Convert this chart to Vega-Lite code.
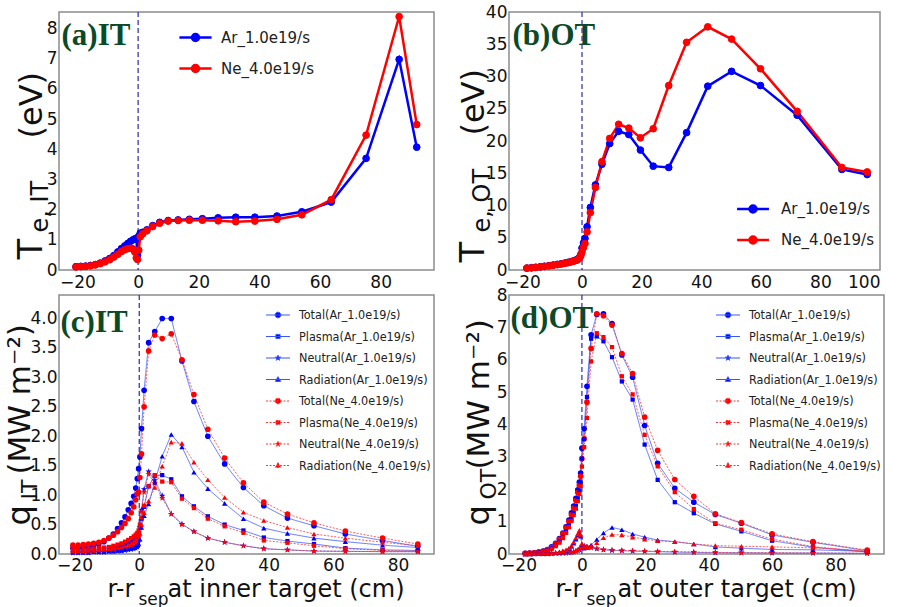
{
"$schema":"https://vega.github.io/schema/vega-lite/v6.json",
"background":"white",
"padding":{"left":2,"top":2,"right":2,"bottom":2},
"columns":2,
"spacing":{"row":25,"column":75},
"bounds":"flush",
"config":{
 "view":{"stroke":"#8c8c8c","strokeWidth":1.5},
 "axis":{"grid":false,"domain":false,"ticks":false,"labelFont":"DejaVu Sans","labelFontSize":17,"labelColor":"#111","labelPadding":3,"titleFont":"DejaVu Sans","titleFontWeight":"normal","titleColor":"#111"},
 "legend":{"padding":0,"offset":0,"labelColor":"#222","labelFont":"DejaVu Sans","labelLimit":300}
},
"datasets":{
"teit":[
{"c":"Ar_1.0e19/s","x":-20.5,"y":0.11},{"c":"Ar_1.0e19/s","x":-18.9,"y":0.12},{"c":"Ar_1.0e19/s","x":-17.3,"y":0.13},{"c":"Ar_1.0e19/s","x":-15.7,"y":0.15},{"c":"Ar_1.0e19/s","x":-14.1,"y":0.18},{"c":"Ar_1.0e19/s","x":-12.5,"y":0.23},{"c":"Ar_1.0e19/s","x":-10.9,"y":0.30},{"c":"Ar_1.0e19/s","x":-9.4,"y":0.38},{"c":"Ar_1.0e19/s","x":-8.0,"y":0.48},{"c":"Ar_1.0e19/s","x":-6.7,"y":0.60},{"c":"Ar_1.0e19/s","x":-5.5,"y":0.71},{"c":"Ar_1.0e19/s","x":-4.4,"y":0.80},{"c":"Ar_1.0e19/s","x":-3.4,"y":0.88},{"c":"Ar_1.0e19/s","x":-2.5,"y":0.95},{"c":"Ar_1.0e19/s","x":-1.7,"y":1.00},{"c":"Ar_1.0e19/s","x":-1.1,"y":1.03},{"c":"Ar_1.0e19/s","x":-0.6,"y":1.05},{"c":"Ar_1.0e19/s","x":-0.2,"y":0.50},{"c":"Ar_1.0e19/s","x":0.2,"y":1.12},{"c":"Ar_1.0e19/s","x":0.7,"y":1.22},{"c":"Ar_1.0e19/s","x":1.5,"y":1.25},{"c":"Ar_1.0e19/s","x":2.9,"y":1.33},{"c":"Ar_1.0e19/s","x":4.8,"y":1.47},{"c":"Ar_1.0e19/s","x":7.1,"y":1.58},{"c":"Ar_1.0e19/s","x":9.9,"y":1.64},{"c":"Ar_1.0e19/s","x":13.2,"y":1.66},{"c":"Ar_1.0e19/s","x":16.9,"y":1.68},{"c":"Ar_1.0e19/s","x":21.2,"y":1.70},{"c":"Ar_1.0e19/s","x":26.4,"y":1.73},{"c":"Ar_1.0e19/s","x":32.2,"y":1.75},{"c":"Ar_1.0e19/s","x":38.5,"y":1.75},{"c":"Ar_1.0e19/s","x":45.8,"y":1.79},{"c":"Ar_1.0e19/s","x":54.0,"y":1.93},{"c":"Ar_1.0e19/s","x":63.7,"y":2.25},{"c":"Ar_1.0e19/s","x":75.2,"y":3.70},{"c":"Ar_1.0e19/s","x":86.1,"y":6.98},{"c":"Ar_1.0e19/s","x":91.9,"y":4.07},
{"c":"Ne_4.0e19/s","x":-20.5,"y":0.10},{"c":"Ne_4.0e19/s","x":-18.9,"y":0.11},{"c":"Ne_4.0e19/s","x":-17.3,"y":0.12},{"c":"Ne_4.0e19/s","x":-15.7,"y":0.14},{"c":"Ne_4.0e19/s","x":-14.1,"y":0.17},{"c":"Ne_4.0e19/s","x":-12.5,"y":0.21},{"c":"Ne_4.0e19/s","x":-10.9,"y":0.27},{"c":"Ne_4.0e19/s","x":-9.4,"y":0.34},{"c":"Ne_4.0e19/s","x":-8.0,"y":0.43},{"c":"Ne_4.0e19/s","x":-6.7,"y":0.52},{"c":"Ne_4.0e19/s","x":-5.5,"y":0.61},{"c":"Ne_4.0e19/s","x":-4.4,"y":0.67},{"c":"Ne_4.0e19/s","x":-3.4,"y":0.71},{"c":"Ne_4.0e19/s","x":-2.5,"y":0.72},{"c":"Ne_4.0e19/s","x":-1.7,"y":0.70},{"c":"Ne_4.0e19/s","x":-1.1,"y":0.60},{"c":"Ne_4.0e19/s","x":-0.6,"y":0.40},{"c":"Ne_4.0e19/s","x":-0.2,"y":0.35},{"c":"Ne_4.0e19/s","x":0.2,"y":0.66},{"c":"Ne_4.0e19/s","x":0.7,"y":1.10},{"c":"Ne_4.0e19/s","x":1.5,"y":1.20},{"c":"Ne_4.0e19/s","x":2.9,"y":1.30},{"c":"Ne_4.0e19/s","x":4.8,"y":1.44},{"c":"Ne_4.0e19/s","x":7.1,"y":1.55},{"c":"Ne_4.0e19/s","x":9.9,"y":1.62},{"c":"Ne_4.0e19/s","x":13.2,"y":1.64},{"c":"Ne_4.0e19/s","x":16.9,"y":1.65},{"c":"Ne_4.0e19/s","x":21.2,"y":1.65},{"c":"Ne_4.0e19/s","x":26.4,"y":1.63},{"c":"Ne_4.0e19/s","x":32.2,"y":1.60},{"c":"Ne_4.0e19/s","x":38.5,"y":1.62},{"c":"Ne_4.0e19/s","x":45.8,"y":1.68},{"c":"Ne_4.0e19/s","x":54.0,"y":1.83},{"c":"Ne_4.0e19/s","x":63.7,"y":2.33},{"c":"Ne_4.0e19/s","x":75.2,"y":4.47},{"c":"Ne_4.0e19/s","x":86.1,"y":8.40},{"c":"Ne_4.0e19/s","x":91.9,"y":4.82}
],
"teot":[
{"c":"Ar_1.0e19/s","x":-18.5,"y":0.3},{"c":"Ar_1.0e19/s","x":-17.0,"y":0.35},{"c":"Ar_1.0e19/s","x":-15.5,"y":0.42},{"c":"Ar_1.0e19/s","x":-14.0,"y":0.5},{"c":"Ar_1.0e19/s","x":-12.6,"y":0.58},{"c":"Ar_1.0e19/s","x":-11.1,"y":0.67},{"c":"Ar_1.0e19/s","x":-9.7,"y":0.77},{"c":"Ar_1.0e19/s","x":-8.3,"y":0.87},{"c":"Ar_1.0e19/s","x":-7.0,"y":0.97},{"c":"Ar_1.0e19/s","x":-5.8,"y":1.07},{"c":"Ar_1.0e19/s","x":-4.8,"y":1.17},{"c":"Ar_1.0e19/s","x":-3.9,"y":1.27},{"c":"Ar_1.0e19/s","x":-3.1,"y":1.37},{"c":"Ar_1.0e19/s","x":-2.4,"y":1.47},{"c":"Ar_1.0e19/s","x":-1.8,"y":1.58},{"c":"Ar_1.0e19/s","x":-1.3,"y":1.72},{"c":"Ar_1.0e19/s","x":-0.8,"y":1.95},{"c":"Ar_1.0e19/s","x":-0.4,"y":2.4},{"c":"Ar_1.0e19/s","x":0.0,"y":3.4},{"c":"Ar_1.0e19/s","x":0.5,"y":4.2},{"c":"Ar_1.0e19/s","x":1.0,"y":4.9},{"c":"Ar_1.0e19/s","x":1.7,"y":6.7},{"c":"Ar_1.0e19/s","x":2.8,"y":9.7},{"c":"Ar_1.0e19/s","x":4.5,"y":13.2},{"c":"Ar_1.0e19/s","x":6.7,"y":16.4},{"c":"Ar_1.0e19/s","x":9.3,"y":19.6},{"c":"Ar_1.0e19/s","x":12.3,"y":21.5},{"c":"Ar_1.0e19/s","x":15.7,"y":21.0},{"c":"Ar_1.0e19/s","x":19.6,"y":18.6},{"c":"Ar_1.0e19/s","x":23.9,"y":16.1},{"c":"Ar_1.0e19/s","x":29.1,"y":15.9},{"c":"Ar_1.0e19/s","x":35.1,"y":21.3},{"c":"Ar_1.0e19/s","x":42.2,"y":28.5},{"c":"Ar_1.0e19/s","x":50.2,"y":30.8},{"c":"Ar_1.0e19/s","x":59.9,"y":28.6},{"c":"Ar_1.0e19/s","x":72.2,"y":24.0},{"c":"Ar_1.0e19/s","x":87.2,"y":15.6},{"c":"Ar_1.0e19/s","x":95.7,"y":14.8},
{"c":"Ne_4.0e19/s","x":-18.5,"y":0.28},{"c":"Ne_4.0e19/s","x":-17.0,"y":0.33},{"c":"Ne_4.0e19/s","x":-15.5,"y":0.4},{"c":"Ne_4.0e19/s","x":-14.0,"y":0.47},{"c":"Ne_4.0e19/s","x":-12.6,"y":0.55},{"c":"Ne_4.0e19/s","x":-11.1,"y":0.64},{"c":"Ne_4.0e19/s","x":-9.7,"y":0.73},{"c":"Ne_4.0e19/s","x":-8.3,"y":0.83},{"c":"Ne_4.0e19/s","x":-7.0,"y":0.93},{"c":"Ne_4.0e19/s","x":-5.8,"y":1.03},{"c":"Ne_4.0e19/s","x":-4.8,"y":1.13},{"c":"Ne_4.0e19/s","x":-3.9,"y":1.23},{"c":"Ne_4.0e19/s","x":-3.1,"y":1.33},{"c":"Ne_4.0e19/s","x":-2.4,"y":1.43},{"c":"Ne_4.0e19/s","x":-1.8,"y":1.53},{"c":"Ne_4.0e19/s","x":-1.3,"y":1.65},{"c":"Ne_4.0e19/s","x":-0.8,"y":1.85},{"c":"Ne_4.0e19/s","x":-0.4,"y":2.2},{"c":"Ne_4.0e19/s","x":0.0,"y":2.8},{"c":"Ne_4.0e19/s","x":0.5,"y":3.5},{"c":"Ne_4.0e19/s","x":1.0,"y":4.1},{"c":"Ne_4.0e19/s","x":1.7,"y":5.9},{"c":"Ne_4.0e19/s","x":2.8,"y":8.9},{"c":"Ne_4.0e19/s","x":4.5,"y":12.8},{"c":"Ne_4.0e19/s","x":6.7,"y":16.8},{"c":"Ne_4.0e19/s","x":9.3,"y":20.4},{"c":"Ne_4.0e19/s","x":12.3,"y":22.6},{"c":"Ne_4.0e19/s","x":15.7,"y":22.0},{"c":"Ne_4.0e19/s","x":19.6,"y":20.5},{"c":"Ne_4.0e19/s","x":23.9,"y":21.9},{"c":"Ne_4.0e19/s","x":29.1,"y":28.6},{"c":"Ne_4.0e19/s","x":35.1,"y":35.3},{"c":"Ne_4.0e19/s","x":42.2,"y":37.7},{"c":"Ne_4.0e19/s","x":50.2,"y":35.8},{"c":"Ne_4.0e19/s","x":59.9,"y":31.2},{"c":"Ne_4.0e19/s","x":72.2,"y":24.6},{"c":"Ne_4.0e19/s","x":87.2,"y":15.9},{"c":"Ne_4.0e19/s","x":95.7,"y":15.2}
],
"qit":[
{"s":"TA","x":-20.5,"y":0.10},{"s":"TA","x":-18.9,"y":0.10},{"s":"TA","x":-17.3,"y":0.11},{"s":"TA","x":-15.7,"y":0.12},{"s":"TA","x":-14.1,"y":0.14},{"s":"TA","x":-12.5,"y":0.17},{"s":"TA","x":-10.9,"y":0.21},{"s":"TA","x":-9.4,"y":0.27},{"s":"TA","x":-8.0,"y":0.34},{"s":"TA","x":-6.7,"y":0.43},{"s":"TA","x":-5.5,"y":0.53},{"s":"TA","x":-4.4,"y":0.63},{"s":"TA","x":-3.4,"y":0.75},{"s":"TA","x":-2.5,"y":0.86},{"s":"TA","x":-1.7,"y":0.98},{"s":"TA","x":-1.1,"y":1.12},{"s":"TA","x":-0.6,"y":1.28},{"s":"TA","x":-0.2,"y":1.45},{"s":"TA","x":0.2,"y":1.65},{"s":"TA","x":0.7,"y":2.13},{"s":"TA","x":1.5,"y":2.78},{"s":"TA","x":2.9,"y":3.59},{"s":"TA","x":4.8,"y":3.78},{"s":"TA","x":7.1,"y":4.00},{"s":"TA","x":9.9,"y":4.00},{"s":"TA","x":13.2,"y":3.28},{"s":"TA","x":16.9,"y":2.59},{"s":"TA","x":21.2,"y":2.00},{"s":"TA","x":26.4,"y":1.53},{"s":"TA","x":32.2,"y":1.13},{"s":"TA","x":38.5,"y":0.82},{"s":"TA","x":45.8,"y":0.61},{"s":"TA","x":54.0,"y":0.48},{"s":"TA","x":63.7,"y":0.34},{"s":"TA","x":75.2,"y":0.23},{"s":"TA","x":86.1,"y":0.13},
{"s":"PA","x":-20.5,"y":0.06},{"s":"PA","x":-18.9,"y":0.06},{"s":"PA","x":-17.3,"y":0.06},{"s":"PA","x":-15.7,"y":0.07},{"s":"PA","x":-14.1,"y":0.07},{"s":"PA","x":-12.5,"y":0.08},{"s":"PA","x":-10.9,"y":0.09},{"s":"PA","x":-9.4,"y":0.10},{"s":"PA","x":-8.0,"y":0.11},{"s":"PA","x":-6.7,"y":0.13},{"s":"PA","x":-5.5,"y":0.15},{"s":"PA","x":-4.4,"y":0.17},{"s":"PA","x":-3.4,"y":0.20},{"s":"PA","x":-2.5,"y":0.22},{"s":"PA","x":-1.7,"y":0.25},{"s":"PA","x":-1.1,"y":0.28},{"s":"PA","x":-0.6,"y":0.30},{"s":"PA","x":-0.2,"y":0.35},{"s":"PA","x":0.2,"y":0.45},{"s":"PA","x":0.7,"y":0.60},{"s":"PA","x":1.5,"y":0.80},{"s":"PA","x":2.9,"y":1.15},{"s":"PA","x":4.8,"y":1.33},{"s":"PA","x":7.1,"y":1.34},{"s":"PA","x":9.9,"y":1.27},{"s":"PA","x":13.2,"y":0.98},{"s":"PA","x":16.9,"y":0.81},{"s":"PA","x":21.2,"y":0.64},{"s":"PA","x":26.4,"y":0.50},{"s":"PA","x":32.2,"y":0.40},{"s":"PA","x":38.5,"y":0.28},{"s":"PA","x":45.8,"y":0.22},{"s":"PA","x":54.0,"y":0.17},{"s":"PA","x":63.7,"y":0.10},{"s":"PA","x":75.2,"y":0.07},{"s":"PA","x":86.1,"y":0.06},
{"s":"NA","x":-20.5,"y":0.02},{"s":"NA","x":-18.9,"y":0.02},{"s":"NA","x":-17.3,"y":0.02},{"s":"NA","x":-15.7,"y":0.02},{"s":"NA","x":-14.1,"y":0.03},{"s":"NA","x":-12.5,"y":0.03},{"s":"NA","x":-10.9,"y":0.03},{"s":"NA","x":-9.4,"y":0.04},{"s":"NA","x":-8.0,"y":0.04},{"s":"NA","x":-6.7,"y":0.05},{"s":"NA","x":-5.5,"y":0.05},{"s":"NA","x":-4.4,"y":0.06},{"s":"NA","x":-3.4,"y":0.07},{"s":"NA","x":-2.5,"y":0.08},{"s":"NA","x":-1.7,"y":0.09},{"s":"NA","x":-1.1,"y":0.10},{"s":"NA","x":-0.6,"y":0.12},{"s":"NA","x":-0.2,"y":0.20},{"s":"NA","x":0.2,"y":0.45},{"s":"NA","x":0.7,"y":0.75},{"s":"NA","x":1.5,"y":1.10},{"s":"NA","x":2.9,"y":1.40},{"s":"NA","x":4.8,"y":1.25},{"s":"NA","x":7.1,"y":0.99},{"s":"NA","x":9.9,"y":0.68},{"s":"NA","x":13.2,"y":0.51},{"s":"NA","x":16.9,"y":0.38},{"s":"NA","x":21.2,"y":0.27},{"s":"NA","x":26.4,"y":0.20},{"s":"NA","x":32.2,"y":0.14},{"s":"NA","x":38.5,"y":0.09},{"s":"NA","x":45.8,"y":0.07},{"s":"NA","x":54.0,"y":0.05},{"s":"NA","x":63.7,"y":0.045},{"s":"NA","x":75.2,"y":0.04},{"s":"NA","x":86.1,"y":0.04},
{"s":"RA","x":-20.5,"y":0.03},{"s":"RA","x":-18.9,"y":0.03},{"s":"RA","x":-17.3,"y":0.03},{"s":"RA","x":-15.7,"y":0.03},{"s":"RA","x":-14.1,"y":0.04},{"s":"RA","x":-12.5,"y":0.04},{"s":"RA","x":-10.9,"y":0.04},{"s":"RA","x":-9.4,"y":0.05},{"s":"RA","x":-8.0,"y":0.05},{"s":"RA","x":-6.7,"y":0.06},{"s":"RA","x":-5.5,"y":0.07},{"s":"RA","x":-4.4,"y":0.08},{"s":"RA","x":-3.4,"y":0.09},{"s":"RA","x":-2.5,"y":0.10},{"s":"RA","x":-1.7,"y":0.11},{"s":"RA","x":-1.1,"y":0.13},{"s":"RA","x":-0.6,"y":0.15},{"s":"RA","x":-0.2,"y":0.17},{"s":"RA","x":0.2,"y":0.25},{"s":"RA","x":0.7,"y":0.45},{"s":"RA","x":1.5,"y":0.65},{"s":"RA","x":2.9,"y":0.85},{"s":"RA","x":4.8,"y":1.22},{"s":"RA","x":7.1,"y":1.66},{"s":"RA","x":9.9,"y":2.03},{"s":"RA","x":13.2,"y":1.82},{"s":"RA","x":16.9,"y":1.39},{"s":"RA","x":21.2,"y":1.11},{"s":"RA","x":26.4,"y":0.86},{"s":"RA","x":32.2,"y":0.60},{"s":"RA","x":38.5,"y":0.44},{"s":"RA","x":45.8,"y":0.35},{"s":"RA","x":54.0,"y":0.27},{"s":"RA","x":63.7,"y":0.21},{"s":"RA","x":75.2,"y":0.15},{"s":"RA","x":86.1,"y":0.11},
{"s":"TN","x":-20.5,"y":0.15},{"s":"TN","x":-18.9,"y":0.15},{"s":"TN","x":-17.3,"y":0.16},{"s":"TN","x":-15.7,"y":0.17},{"s":"TN","x":-14.1,"y":0.18},{"s":"TN","x":-12.5,"y":0.20},{"s":"TN","x":-10.9,"y":0.23},{"s":"TN","x":-9.4,"y":0.27},{"s":"TN","x":-8.0,"y":0.32},{"s":"TN","x":-6.7,"y":0.38},{"s":"TN","x":-5.5,"y":0.45},{"s":"TN","x":-4.4,"y":0.52},{"s":"TN","x":-3.4,"y":0.60},{"s":"TN","x":-2.5,"y":0.70},{"s":"TN","x":-1.7,"y":0.80},{"s":"TN","x":-1.1,"y":0.92},{"s":"TN","x":-0.6,"y":1.02},{"s":"TN","x":-0.2,"y":1.05},{"s":"TN","x":0.2,"y":1.30},{"s":"TN","x":0.7,"y":1.70},{"s":"TN","x":1.5,"y":2.50},{"s":"TN","x":2.9,"y":3.45},{"s":"TN","x":4.8,"y":3.72},{"s":"TN","x":7.1,"y":3.66},{"s":"TN","x":9.9,"y":3.74},{"s":"TN","x":13.2,"y":3.30},{"s":"TN","x":16.9,"y":2.71},{"s":"TN","x":21.2,"y":2.12},{"s":"TN","x":26.4,"y":1.63},{"s":"TN","x":32.2,"y":1.21},{"s":"TN","x":38.5,"y":0.88},{"s":"TN","x":45.8,"y":0.68},{"s":"TN","x":54.0,"y":0.53},{"s":"TN","x":63.7,"y":0.39},{"s":"TN","x":75.2,"y":0.27},{"s":"TN","x":86.1,"y":0.17},
{"s":"PN","x":-20.5,"y":0.08},{"s":"PN","x":-18.9,"y":0.08},{"s":"PN","x":-17.3,"y":0.08},{"s":"PN","x":-15.7,"y":0.09},{"s":"PN","x":-14.1,"y":0.09},{"s":"PN","x":-12.5,"y":0.10},{"s":"PN","x":-10.9,"y":0.11},{"s":"PN","x":-9.4,"y":0.12},{"s":"PN","x":-8.0,"y":0.14},{"s":"PN","x":-6.7,"y":0.16},{"s":"PN","x":-5.5,"y":0.18},{"s":"PN","x":-4.4,"y":0.21},{"s":"PN","x":-3.4,"y":0.24},{"s":"PN","x":-2.5,"y":0.27},{"s":"PN","x":-1.7,"y":0.30},{"s":"PN","x":-1.1,"y":0.33},{"s":"PN","x":-0.6,"y":0.36},{"s":"PN","x":-0.2,"y":0.40},{"s":"PN","x":0.2,"y":0.50},{"s":"PN","x":0.7,"y":0.62},{"s":"PN","x":1.5,"y":0.82},{"s":"PN","x":2.9,"y":1.15},{"s":"PN","x":4.8,"y":1.34},{"s":"PN","x":7.1,"y":1.23},{"s":"PN","x":9.9,"y":1.22},{"s":"PN","x":13.2,"y":0.94},{"s":"PN","x":16.9,"y":0.78},{"s":"PN","x":21.2,"y":0.60},{"s":"PN","x":26.4,"y":0.47},{"s":"PN","x":32.2,"y":0.36},{"s":"PN","x":38.5,"y":0.23},{"s":"PN","x":45.8,"y":0.19},{"s":"PN","x":54.0,"y":0.14},{"s":"PN","x":63.7,"y":0.09},{"s":"PN","x":75.2,"y":0.06},{"s":"PN","x":86.1,"y":0.05},
{"s":"NN","x":-20.5,"y":0.03},{"s":"NN","x":-18.9,"y":0.03},{"s":"NN","x":-17.3,"y":0.03},{"s":"NN","x":-15.7,"y":0.03},{"s":"NN","x":-14.1,"y":0.04},{"s":"NN","x":-12.5,"y":0.04},{"s":"NN","x":-10.9,"y":0.04},{"s":"NN","x":-9.4,"y":0.05},{"s":"NN","x":-8.0,"y":0.06},{"s":"NN","x":-6.7,"y":0.07},{"s":"NN","x":-5.5,"y":0.08},{"s":"NN","x":-4.4,"y":0.09},{"s":"NN","x":-3.4,"y":0.10},{"s":"NN","x":-2.5,"y":0.12},{"s":"NN","x":-1.7,"y":0.14},{"s":"NN","x":-1.1,"y":0.17},{"s":"NN","x":-0.6,"y":0.20},{"s":"NN","x":-0.2,"y":0.28},{"s":"NN","x":0.2,"y":0.45},{"s":"NN","x":0.7,"y":0.72},{"s":"NN","x":1.5,"y":1.05},{"s":"NN","x":2.9,"y":1.36},{"s":"NN","x":4.8,"y":1.20},{"s":"NN","x":7.1,"y":0.95},{"s":"NN","x":9.9,"y":0.68},{"s":"NN","x":13.2,"y":0.50},{"s":"NN","x":16.9,"y":0.38},{"s":"NN","x":21.2,"y":0.27},{"s":"NN","x":26.4,"y":0.20},{"s":"NN","x":32.2,"y":0.14},{"s":"NN","x":38.5,"y":0.09},{"s":"NN","x":45.8,"y":0.07},{"s":"NN","x":54.0,"y":0.05},{"s":"NN","x":63.7,"y":0.045},{"s":"NN","x":75.2,"y":0.04},{"s":"NN","x":86.1,"y":0.04},
{"s":"RN","x":-20.5,"y":0.05},{"s":"RN","x":-18.9,"y":0.05},{"s":"RN","x":-17.3,"y":0.05},{"s":"RN","x":-15.7,"y":0.06},{"s":"RN","x":-14.1,"y":0.06},{"s":"RN","x":-12.5,"y":0.07},{"s":"RN","x":-10.9,"y":0.08},{"s":"RN","x":-9.4,"y":0.09},{"s":"RN","x":-8.0,"y":0.10},{"s":"RN","x":-6.7,"y":0.11},{"s":"RN","x":-5.5,"y":0.12},{"s":"RN","x":-4.4,"y":0.14},{"s":"RN","x":-3.4,"y":0.16},{"s":"RN","x":-2.5,"y":0.18},{"s":"RN","x":-1.7,"y":0.21},{"s":"RN","x":-1.1,"y":0.25},{"s":"RN","x":-0.6,"y":0.30},{"s":"RN","x":-0.2,"y":0.33},{"s":"RN","x":0.2,"y":0.35},{"s":"RN","x":0.7,"y":0.50},{"s":"RN","x":1.5,"y":0.70},{"s":"RN","x":2.9,"y":0.90},{"s":"RN","x":4.8,"y":1.13},{"s":"RN","x":7.1,"y":1.49},{"s":"RN","x":9.9,"y":1.90},{"s":"RN","x":13.2,"y":1.88},{"s":"RN","x":16.9,"y":1.56},{"s":"RN","x":21.2,"y":1.26},{"s":"RN","x":26.4,"y":0.96},{"s":"RN","x":32.2,"y":0.71},{"s":"RN","x":38.5,"y":0.57},{"s":"RN","x":45.8,"y":0.45},{"s":"RN","x":54.0,"y":0.34},{"s":"RN","x":63.7,"y":0.27},{"s":"RN","x":75.2,"y":0.20},{"s":"RN","x":86.1,"y":0.14}
],
"qot":[
{"s":"TA","x":-17.9,"y":0.02},{"s":"TA","x":-16.5,"y":0.03},{"s":"TA","x":-15.0,"y":0.04},{"s":"TA","x":-13.6,"y":0.06},{"s":"TA","x":-12.2,"y":0.09},{"s":"TA","x":-10.9,"y":0.14},{"s":"TA","x":-9.6,"y":0.22},{"s":"TA","x":-8.3,"y":0.33},{"s":"TA","x":-7.1,"y":0.48},{"s":"TA","x":-6.0,"y":0.65},{"s":"TA","x":-5.0,"y":0.84},{"s":"TA","x":-4.1,"y":1.05},{"s":"TA","x":-3.3,"y":1.27},{"s":"TA","x":-2.6,"y":1.48},{"s":"TA","x":-1.9,"y":1.72},{"s":"TA","x":-1.3,"y":1.98},{"s":"TA","x":-0.8,"y":2.22},{"s":"TA","x":-0.4,"y":2.5},{"s":"TA","x":0.0,"y":3.27},{"s":"TA","x":0.7,"y":3.87},{"s":"TA","x":1.6,"y":5.18},{"s":"TA","x":2.9,"y":6.77},{"s":"TA","x":4.7,"y":7.40},{"s":"TA","x":6.8,"y":7.42},{"s":"TA","x":9.5,"y":7.12},{"s":"TA","x":12.6,"y":6.15},{"s":"TA","x":16.0,"y":5.46},{"s":"TA","x":19.8,"y":3.97},{"s":"TA","x":23.9,"y":2.80},{"s":"TA","x":29.3,"y":2.03},{"s":"TA","x":35.3,"y":1.60},{"s":"TA","x":42.1,"y":1.22},{"s":"TA","x":50.3,"y":0.95},{"s":"TA","x":60.0,"y":0.59},{"s":"TA","x":72.9,"y":0.36},{"s":"TA","x":90.0,"y":0.10},
{"s":"PA","x":-17.9,"y":0.02},{"s":"PA","x":-16.5,"y":0.02},{"s":"PA","x":-15.0,"y":0.03},{"s":"PA","x":-13.6,"y":0.05},{"s":"PA","x":-12.2,"y":0.07},{"s":"PA","x":-10.9,"y":0.11},{"s":"PA","x":-9.6,"y":0.17},{"s":"PA","x":-8.3,"y":0.26},{"s":"PA","x":-7.1,"y":0.38},{"s":"PA","x":-6.0,"y":0.53},{"s":"PA","x":-5.0,"y":0.70},{"s":"PA","x":-4.1,"y":0.88},{"s":"PA","x":-3.3,"y":1.08},{"s":"PA","x":-2.6,"y":1.27},{"s":"PA","x":-1.9,"y":1.48},{"s":"PA","x":-1.3,"y":1.72},{"s":"PA","x":-0.8,"y":1.95},{"s":"PA","x":-0.4,"y":2.2},{"s":"PA","x":0.0,"y":2.95},{"s":"PA","x":0.7,"y":3.55},{"s":"PA","x":1.6,"y":4.85},{"s":"PA","x":2.9,"y":6.65},{"s":"PA","x":4.7,"y":6.72},{"s":"PA","x":6.8,"y":6.57},{"s":"PA","x":9.5,"y":6.08},{"s":"PA","x":12.6,"y":5.33},{"s":"PA","x":16.0,"y":4.77},{"s":"PA","x":19.8,"y":3.38},{"s":"PA","x":23.9,"y":2.29},{"s":"PA","x":29.3,"y":1.60},{"s":"PA","x":35.3,"y":1.26},{"s":"PA","x":42.1,"y":0.93},{"s":"PA","x":50.3,"y":0.70},{"s":"PA","x":60.0,"y":0.41},{"s":"PA","x":72.9,"y":0.21},{"s":"PA","x":90.0,"y":0.06},
{"s":"NA","x":-17.9,"y":0.0},{"s":"NA","x":-16.5,"y":0.0},{"s":"NA","x":-15.0,"y":0.0},{"s":"NA","x":-13.6,"y":0.01},{"s":"NA","x":-12.2,"y":0.01},{"s":"NA","x":-10.9,"y":0.01},{"s":"NA","x":-9.6,"y":0.01},{"s":"NA","x":-8.3,"y":0.02},{"s":"NA","x":-7.1,"y":0.02},{"s":"NA","x":-6.0,"y":0.03},{"s":"NA","x":-5.0,"y":0.03},{"s":"NA","x":-4.1,"y":0.04},{"s":"NA","x":-3.3,"y":0.05},{"s":"NA","x":-2.6,"y":0.06},{"s":"NA","x":-1.9,"y":0.08},{"s":"NA","x":-1.3,"y":0.10},{"s":"NA","x":-0.8,"y":0.13},{"s":"NA","x":-0.4,"y":0.17},{"s":"NA","x":0.0,"y":0.22},{"s":"NA","x":0.7,"y":0.25},{"s":"NA","x":1.6,"y":0.22},{"s":"NA","x":2.9,"y":0.20},{"s":"NA","x":4.7,"y":0.16},{"s":"NA","x":6.8,"y":0.13},{"s":"NA","x":9.5,"y":0.11},{"s":"NA","x":12.6,"y":0.10},{"s":"NA","x":16.0,"y":0.09},{"s":"NA","x":19.8,"y":0.08},{"s":"NA","x":23.9,"y":0.07},{"s":"NA","x":29.3,"y":0.06},{"s":"NA","x":35.3,"y":0.05},{"s":"NA","x":42.1,"y":0.04},{"s":"NA","x":50.3,"y":0.04},{"s":"NA","x":60.0,"y":0.03},{"s":"NA","x":72.9,"y":0.03},{"s":"NA","x":90.0,"y":0.02},
{"s":"RA","x":-17.9,"y":0.0},{"s":"RA","x":-16.5,"y":0.0},{"s":"RA","x":-15.0,"y":0.01},{"s":"RA","x":-13.6,"y":0.01},{"s":"RA","x":-12.2,"y":0.01},{"s":"RA","x":-10.9,"y":0.02},{"s":"RA","x":-9.6,"y":0.03},{"s":"RA","x":-8.3,"y":0.04},{"s":"RA","x":-7.1,"y":0.06},{"s":"RA","x":-6.0,"y":0.08},{"s":"RA","x":-5.0,"y":0.11},{"s":"RA","x":-4.1,"y":0.16},{"s":"RA","x":-3.3,"y":0.23},{"s":"RA","x":-2.6,"y":0.33},{"s":"RA","x":-1.9,"y":0.46},{"s":"RA","x":-1.3,"y":0.58},{"s":"RA","x":-0.8,"y":0.66},{"s":"RA","x":-0.4,"y":0.55},{"s":"RA","x":0.0,"y":0.30},{"s":"RA","x":0.7,"y":0.18},{"s":"RA","x":1.6,"y":0.20},{"s":"RA","x":2.9,"y":0.28},{"s":"RA","x":4.7,"y":0.45},{"s":"RA","x":6.8,"y":0.65},{"s":"RA","x":9.5,"y":0.82},{"s":"RA","x":12.6,"y":0.75},{"s":"RA","x":16.0,"y":0.62},{"s":"RA","x":19.8,"y":0.52},{"s":"RA","x":23.9,"y":0.43},{"s":"RA","x":29.3,"y":0.38},{"s":"RA","x":35.3,"y":0.31},{"s":"RA","x":42.1,"y":0.22},{"s":"RA","x":50.3,"y":0.18},{"s":"RA","x":60.0,"y":0.14},{"s":"RA","x":72.9,"y":0.13},{"s":"RA","x":90.0,"y":0.08},
{"s":"TN","x":-17.9,"y":0.02},{"s":"TN","x":-16.5,"y":0.03},{"s":"TN","x":-15.0,"y":0.04},{"s":"TN","x":-13.6,"y":0.06},{"s":"TN","x":-12.2,"y":0.08},{"s":"TN","x":-10.9,"y":0.13},{"s":"TN","x":-9.6,"y":0.20},{"s":"TN","x":-8.3,"y":0.31},{"s":"TN","x":-7.1,"y":0.45},{"s":"TN","x":-6.0,"y":0.62},{"s":"TN","x":-5.0,"y":0.80},{"s":"TN","x":-4.1,"y":1.00},{"s":"TN","x":-3.3,"y":1.21},{"s":"TN","x":-2.6,"y":1.42},{"s":"TN","x":-1.9,"y":1.65},{"s":"TN","x":-1.3,"y":1.90},{"s":"TN","x":-0.8,"y":2.12},{"s":"TN","x":-0.4,"y":2.4},{"s":"TN","x":0.0,"y":2.94},{"s":"TN","x":0.7,"y":3.56},{"s":"TN","x":1.6,"y":4.69},{"s":"TN","x":2.9,"y":6.35},{"s":"TN","x":4.7,"y":7.42},{"s":"TN","x":6.8,"y":7.36},{"s":"TN","x":9.5,"y":7.07},{"s":"TN","x":12.6,"y":6.19},{"s":"TN","x":16.0,"y":5.57},{"s":"TN","x":19.8,"y":4.23},{"s":"TN","x":23.9,"y":3.20},{"s":"TN","x":29.3,"y":2.30},{"s":"TN","x":35.3,"y":1.78},{"s":"TN","x":42.1,"y":1.24},{"s":"TN","x":50.3,"y":0.97},{"s":"TN","x":60.0,"y":0.62},{"s":"TN","x":72.9,"y":0.38},{"s":"TN","x":90.0,"y":0.12},
{"s":"PN","x":-17.9,"y":0.02},{"s":"PN","x":-16.5,"y":0.02},{"s":"PN","x":-15.0,"y":0.03},{"s":"PN","x":-13.6,"y":0.04},{"s":"PN","x":-12.2,"y":0.06},{"s":"PN","x":-10.9,"y":0.10},{"s":"PN","x":-9.6,"y":0.15},{"s":"PN","x":-8.3,"y":0.24},{"s":"PN","x":-7.1,"y":0.35},{"s":"PN","x":-6.0,"y":0.49},{"s":"PN","x":-5.0,"y":0.65},{"s":"PN","x":-4.1,"y":0.83},{"s":"PN","x":-3.3,"y":1.02},{"s":"PN","x":-2.6,"y":1.20},{"s":"PN","x":-1.9,"y":1.40},{"s":"PN","x":-1.3,"y":1.63},{"s":"PN","x":-0.8,"y":1.85},{"s":"PN","x":-0.4,"y":2.1},{"s":"PN","x":0.0,"y":2.70},{"s":"PN","x":0.7,"y":3.30},{"s":"PN","x":1.6,"y":4.20},{"s":"PN","x":2.9,"y":5.95},{"s":"PN","x":4.7,"y":6.82},{"s":"PN","x":6.8,"y":6.70},{"s":"PN","x":9.5,"y":6.39},{"s":"PN","x":12.6,"y":5.49},{"s":"PN","x":16.0,"y":4.93},{"s":"PN","x":19.8,"y":3.68},{"s":"PN","x":23.9,"y":2.71},{"s":"PN","x":29.3,"y":1.91},{"s":"PN","x":35.3,"y":1.39},{"s":"PN","x":42.1,"y":0.95},{"s":"PN","x":50.3,"y":0.75},{"s":"PN","x":60.0,"y":0.46},{"s":"PN","x":72.9,"y":0.23},{"s":"PN","x":90.0,"y":0.07},
{"s":"NN","x":-17.9,"y":0.0},{"s":"NN","x":-16.5,"y":0.0},{"s":"NN","x":-15.0,"y":0.0},{"s":"NN","x":-13.6,"y":0.01},{"s":"NN","x":-12.2,"y":0.01},{"s":"NN","x":-10.9,"y":0.01},{"s":"NN","x":-9.6,"y":0.02},{"s":"NN","x":-8.3,"y":0.02},{"s":"NN","x":-7.1,"y":0.03},{"s":"NN","x":-6.0,"y":0.03},{"s":"NN","x":-5.0,"y":0.04},{"s":"NN","x":-4.1,"y":0.05},{"s":"NN","x":-3.3,"y":0.06},{"s":"NN","x":-2.6,"y":0.07},{"s":"NN","x":-1.9,"y":0.09},{"s":"NN","x":-1.3,"y":0.11},{"s":"NN","x":-0.8,"y":0.14},{"s":"NN","x":-0.4,"y":0.18},{"s":"NN","x":0.0,"y":0.22},{"s":"NN","x":0.7,"y":0.24},{"s":"NN","x":1.6,"y":0.22},{"s":"NN","x":2.9,"y":0.19},{"s":"NN","x":4.7,"y":0.17},{"s":"NN","x":6.8,"y":0.14},{"s":"NN","x":9.5,"y":0.12},{"s":"NN","x":12.6,"y":0.11},{"s":"NN","x":16.0,"y":0.10},{"s":"NN","x":19.8,"y":0.09},{"s":"NN","x":23.9,"y":0.08},{"s":"NN","x":29.3,"y":0.07},{"s":"NN","x":35.3,"y":0.06},{"s":"NN","x":42.1,"y":0.05},{"s":"NN","x":50.3,"y":0.04},{"s":"NN","x":60.0,"y":0.04},{"s":"NN","x":72.9,"y":0.03},{"s":"NN","x":90.0,"y":0.02},
{"s":"RN","x":-17.9,"y":0.0},{"s":"RN","x":-16.5,"y":0.0},{"s":"RN","x":-15.0,"y":0.01},{"s":"RN","x":-13.6,"y":0.01},{"s":"RN","x":-12.2,"y":0.02},{"s":"RN","x":-10.9,"y":0.02},{"s":"RN","x":-9.6,"y":0.03},{"s":"RN","x":-8.3,"y":0.05},{"s":"RN","x":-7.1,"y":0.07},{"s":"RN","x":-6.0,"y":0.10},{"s":"RN","x":-5.0,"y":0.13},{"s":"RN","x":-4.1,"y":0.18},{"s":"RN","x":-3.3,"y":0.26},{"s":"RN","x":-2.6,"y":0.37},{"s":"RN","x":-1.9,"y":0.50},{"s":"RN","x":-1.3,"y":0.63},{"s":"RN","x":-0.8,"y":0.73},{"s":"RN","x":-0.4,"y":0.60},{"s":"RN","x":0.0,"y":0.32},{"s":"RN","x":0.7,"y":0.20},{"s":"RN","x":1.6,"y":0.22},{"s":"RN","x":2.9,"y":0.25},{"s":"RN","x":4.7,"y":0.35},{"s":"RN","x":6.8,"y":0.50},{"s":"RN","x":9.5,"y":0.60},{"s":"RN","x":12.6,"y":0.59},{"s":"RN","x":16.0,"y":0.52},{"s":"RN","x":19.8,"y":0.46},{"s":"RN","x":23.9,"y":0.41},{"s":"RN","x":29.3,"y":0.38},{"s":"RN","x":35.3,"y":0.31},{"s":"RN","x":42.1,"y":0.26},{"s":"RN","x":50.3,"y":0.24},{"s":"RN","x":60.0,"y":0.22},{"s":"RN","x":72.9,"y":0.19},{"s":"RN","x":90.0,"y":0.10}
]
},
"concat":[
{
 "width":375,"height":258,
 "data":{"name":"teit"},
 "layer":[
  {"data":{"values":[{"v":0}]},"mark":{"type":"rule","color":"#2a2aa8","strokeDash":[5,3],"strokeWidth":1.2},
   "encoding":{"x":{"field":"v","type":"quantitative","scale":{"domain":[-26.1,97.6],"nice":false,"zero":false},"axis":null}}},
  {"mark":{"type":"line","strokeWidth":2.5},
   "encoding":{
    "x":{"field":"x","type":"quantitative","scale":{"domain":[-26.1,97.6],"nice":false,"zero":false},"axis":{"orient":"bottom","values":[-20,0,20,40,60,80],"title":null,"labelPadding":4}},
    "y":{"field":"y","type":"quantitative","scale":{"domain":[0,8.55],"nice":false,"zero":false},"axis":{"orient":"left","values":[0,1,2,3,4,5,6,7,8],"labelPadding":2,"title":"T","titleFontSize":34,"titleAngle":270,"titleAlign":"left","titleBaseline":"alphabetic","titleX":-18,"titleY":247}},
    "stroke":{"field":"c","type":"nominal","scale":{"domain":["Ar_1.0e19/s","Ne_4.0e19/s"],"range":["#0000ff","#ff0000"]},
     "legend":{"title":null,"orient":"none","legendX":121,"legendY":10,"symbolType":"M-1.15,0H1.15M-0.25,0A0.25,0.25,0,1,0,0.25,0A0.25,0.25,0,1,0,-0.25,0Z","symbolSize":784,"symbolStrokeWidth":2.5,"symbolOpacity":1,"labelOffset":10,"labelFontSize":15,"rowPadding":7}}
   }},
  {"mark":{"type":"point","filled":true,"size":45,"opacity":1,"strokeWidth":1},
   "encoding":{
    "x":{"field":"x","type":"quantitative","scale":{"domain":[-26.1,97.6],"nice":false,"zero":false},"axis":null},
    "y":{"field":"y","type":"quantitative","scale":{"domain":[0,8.55],"nice":false,"zero":false},"axis":null},
    "fill":{"field":"c","type":"nominal","scale":{"domain":["Ar_1.0e19/s","Ne_4.0e19/s"],"range":["#0000ff","#ff0000"]},
     "legend":{"title":null,"orient":"none","legendX":121,"legendY":10,"symbolType":"M-1.15,0H1.15M-0.25,0A0.25,0.25,0,1,0,0.25,0A0.25,0.25,0,1,0,-0.25,0Z","symbolSize":784,"symbolStrokeWidth":2.5,"symbolOpacity":1,"labelOffset":10,"labelFontSize":15,"rowPadding":7}},
    "stroke":{"field":"c","type":"nominal","scale":{"domain":["Ar_1.0e19/s","Ne_4.0e19/s"],"range":["#0000ff","#ff0000"]},
     "legend":{"title":null,"orient":"none","legendX":121,"legendY":10,"symbolType":"M-1.15,0H1.15M-0.25,0A0.25,0.25,0,1,0,0.25,0A0.25,0.25,0,1,0,-0.25,0Z","symbolSize":784,"symbolStrokeWidth":2.5,"symbolOpacity":1,"labelOffset":10,"labelFontSize":15,"rowPadding":7}}
   }},
  {"data":{"values":[{"x":0,"y":0}]},"mark":{"type":"point","opacity":0},
   "encoding":{"x":{"field":"x","type":"quantitative","scale":{"domain":[-26.1,97.6],"nice":false,"zero":false},"axis":{"orient":"top","labels":false,"title":"(a)IT","titleFont":"Liberation Serif","titleFontWeight":"bold","titleFontSize":31,"titleColor":"#0b4a28","titleAngle":0,"titleAlign":"left","titleBaseline":"alphabetic","titleX":2,"titleY":32}},
    "y":{"field":"y","type":"quantitative","scale":{"domain":[0,8.55],"nice":false,"zero":false},"axis":{"orient":"left","labels":false,"title":"e, IT","titleFontSize":24,"titleAngle":270,"titleAlign":"left","titleBaseline":"alphabetic","titleX":-12,"titleY":220}}}},
  {"data":{"values":[{"x":0,"y":0}]},"mark":{"type":"point","opacity":0},
   "encoding":{"x":{"field":"x","type":"quantitative","scale":{"domain":[-26.1,97.6],"nice":false,"zero":false},"axis":null},
    "y":{"field":"y","type":"quantitative","scale":{"domain":[0,8.55],"nice":false,"zero":false},"axis":{"orient":"left","labels":false,"title":"(eV)","titleFontSize":32,"titleAngle":270,"titleAlign":"left","titleBaseline":"alphabetic","titleX":-18,"titleY":126}}}}
 ],
 "resolve":{"axis":{"x":"independent","y":"independent"}}
},
{
 "width":371,"height":258,
 "data":{"name":"teot"},
 "layer":[
  {"data":{"values":[{"v":0}]},"mark":{"type":"rule","color":"#2a2aa8","strokeDash":[5,3],"strokeWidth":1.2},
   "encoding":{"x":{"field":"v","type":"quantitative","scale":{"domain":[-24.5,100],"nice":false,"zero":false},"axis":null}}},
  {"mark":{"type":"line","strokeWidth":2.5},
   "encoding":{
    "x":{"field":"x","type":"quantitative","scale":{"domain":[-24.5,100],"nice":false,"zero":false},"axis":{"orient":"bottom","values":[-20,0,20,40,60,80,100],"title":null,"labelPadding":4}},
    "y":{"field":"y","type":"quantitative","scale":{"domain":[0,40],"nice":false,"zero":false},"axis":{"orient":"left","values":[0,5,10,15,20,25,30,35,40],"labelPadding":2,"title":"T","titleFontSize":34,"titleAngle":270,"titleAlign":"left","titleBaseline":"alphabetic","titleX":-26,"titleY":250}},
    "stroke":{"field":"c","type":"nominal","scale":{"domain":["Ar_1.0e19/s","Ne_4.0e19/s"],"range":["#0000ff","#ff0000"]},
     "legend":{"title":null,"orient":"none","legendX":229,"legendY":182,"symbolType":"M-1.18,0H1.18M-0.26,0A0.26,0.26,0,1,0,0.26,0A0.26,0.26,0,1,0,-0.26,0Z","symbolSize":729,"symbolStrokeWidth":2.5,"symbolOpacity":1,"labelOffset":13,"labelFontSize":15,"rowPadding":7}}
   }},
  {"mark":{"type":"point","filled":true,"size":45,"opacity":1,"strokeWidth":1},
   "encoding":{
    "x":{"field":"x","type":"quantitative","scale":{"domain":[-24.5,100],"nice":false,"zero":false},"axis":null},
    "y":{"field":"y","type":"quantitative","scale":{"domain":[0,40],"nice":false,"zero":false},"axis":null},
    "fill":{"field":"c","type":"nominal","scale":{"domain":["Ar_1.0e19/s","Ne_4.0e19/s"],"range":["#0000ff","#ff0000"]},
     "legend":{"title":null,"orient":"none","legendX":229,"legendY":182,"symbolType":"M-1.18,0H1.18M-0.26,0A0.26,0.26,0,1,0,0.26,0A0.26,0.26,0,1,0,-0.26,0Z","symbolSize":729,"symbolStrokeWidth":2.5,"symbolOpacity":1,"labelOffset":13,"labelFontSize":15,"rowPadding":7}},
    "stroke":{"field":"c","type":"nominal","scale":{"domain":["Ar_1.0e19/s","Ne_4.0e19/s"],"range":["#0000ff","#ff0000"]},
     "legend":{"title":null,"orient":"none","legendX":229,"legendY":182,"symbolType":"M-1.18,0H1.18M-0.26,0A0.26,0.26,0,1,0,0.26,0A0.26,0.26,0,1,0,-0.26,0Z","symbolSize":729,"symbolStrokeWidth":2.5,"symbolOpacity":1,"labelOffset":13,"labelFontSize":15,"rowPadding":7}}
   }},
  {"data":{"values":[{"x":0,"y":0}]},"mark":{"type":"point","opacity":0},
   "encoding":{"x":{"field":"x","type":"quantitative","scale":{"domain":[-24.5,100],"nice":false,"zero":false},"axis":{"orient":"top","labels":false,"title":"(b)OT","titleFont":"Liberation Serif","titleFontWeight":"bold","titleFontSize":31,"titleColor":"#0b4a28","titleAngle":0,"titleAlign":"left","titleBaseline":"alphabetic","titleX":3,"titleY":32}},
    "y":{"field":"y","type":"quantitative","scale":{"domain":[0,40],"nice":false,"zero":false},"axis":{"orient":"left","labels":false,"title":"e, OT","titleFontSize":24,"titleAngle":270,"titleAlign":"left","titleBaseline":"alphabetic","titleX":-20,"titleY":220}}}},
  {"data":{"values":[{"x":0,"y":0}]},"mark":{"type":"point","opacity":0},
   "encoding":{"x":{"field":"x","type":"quantitative","scale":{"domain":[-24.5,100],"nice":false,"zero":false},"axis":null},
    "y":{"field":"y","type":"quantitative","scale":{"domain":[0,40],"nice":false,"zero":false},"axis":{"orient":"left","labels":false,"title":"(eV)","titleFontSize":32,"titleAngle":270,"titleAlign":"left","titleBaseline":"alphabetic","titleX":-26,"titleY":123}}}}
 ],
 "resolve":{"axis":{"x":"independent","y":"independent"}}
},
{
 "width":375,"height":259,
 "data":{"name":"qit"},
 "layer":[
  {"data":{"values":[{"v":0}]},"mark":{"type":"rule","color":"#2a2aa8","strokeDash":[5,3],"strokeWidth":1.2},
   "encoding":{"x":{"field":"v","type":"quantitative","scale":{"domain":[-24.8,91.1],"nice":false,"zero":false},"axis":null}}},
  {"mark":{"type":"line","strokeWidth":1,"opacity":0.8},
   "encoding":{
    "x":{"field":"x","type":"quantitative","scale":{"domain":[-24.8,91.1],"nice":false,"zero":false},"axis":{"orient":"bottom","values":[-20,0,20,40,60,80],"labelPadding":3,"title":"r-r","titleFontSize":24,"titleAngle":0,"titleAlign":"left","titleBaseline":"alphabetic","titleX":48,"titleY":42}},
    "y":{"field":"y","type":"quantitative","scale":{"domain":[0,4.4],"nice":false,"zero":false},"axis":{"orient":"left","values":[0,0.5,1,1.5,2,2.5,3,3.5,4],"format":".1f","labelPadding":2,"title":"q","titleFontSize":32,"titleAngle":270,"titleAlign":"left","titleBaseline":"alphabetic","titleX":-30,"titleY":230}},
    "stroke":{"field":"s","type":"nominal","scale":{"domain":["TA","PA","NA","RA","TN","PN","NN","RN"],"range":["#3355ff","#3355ff","#3355ff","#3355ff","#ff3333","#ff3333","#ff3333","#ff3333"]},
     "legend":{"title":null,"orient":"none","legendX":208,"legendY":9,"symbolSize":441,"symbolStrokeWidth":1,"symbolOpacity":1,"labelOffset":10,"labelFontSize":12.5,"labelFont":"DejaVu Sans Condensed, DejaVu Sans","rowPadding":3.5,"labelExpr":"['Total(Ar_1.0e19/s)','Plasma(Ar_1.0e19/s)','Neutral(Ar_1.0e19/s)','Radiation(Ar_1.0e19/s)','Total(Ne_4.0e19/s)','Plasma(Ne_4.0e19/s)','Neutral(Ne_4.0e19/s)','Radiation(Ne_4.0e19/s)'][indexof(['TA','PA','NA','RA','TN','PN','NN','RN'],datum.value)]"}},
    "strokeDash":{"field":"s","type":"nominal","scale":{"domain":["TA","PA","NA","RA","TN","PN","NN","RN"],"range":[[1,0],[1,0],[1,0],[1,0],[2,1.5],[2,1.5],[2,1.5],[2,1.5]]},
     "legend":{"title":null,"orient":"none","legendX":208,"legendY":9,"symbolSize":441,"symbolStrokeWidth":1,"symbolOpacity":1,"labelOffset":10,"labelFontSize":12.5,"labelFont":"DejaVu Sans Condensed, DejaVu Sans","rowPadding":3.5,"labelExpr":"['Total(Ar_1.0e19/s)','Plasma(Ar_1.0e19/s)','Neutral(Ar_1.0e19/s)','Radiation(Ar_1.0e19/s)','Total(Ne_4.0e19/s)','Plasma(Ne_4.0e19/s)','Neutral(Ne_4.0e19/s)','Radiation(Ne_4.0e19/s)'][indexof(['TA','PA','NA','RA','TN','PN','NN','RN'],datum.value)]"}}
   }},
  {"transform":[{"filter":{"field":"s","oneOf":["TA","TN"]}}],"mark":{"type":"point","shape":"circle","filled":true,"size":32,"opacity":1},
   "encoding":{"x":{"field":"x","type":"quantitative","scale":{"domain":[-24.8,91.1],"nice":false,"zero":false},"axis":null},"y":{"field":"y","type":"quantitative","scale":{"domain":[0,4.4],"nice":false,"zero":false},"axis":null},
    "fill":{"field":"s","type":"nominal","scale":{"domain":["TA","PA","NA","RA","TN","PN","NN","RN"],"range":["#0000ff","#0000ff","#0000ff","#0000ff","#ff0000","#ff0000","#ff0000","#ff0000"]},
     "legend":{"title":null,"orient":"none","legendX":208,"legendY":9,"symbolSize":441,"symbolStrokeWidth":1,"symbolOpacity":1,"labelOffset":10,"labelFontSize":12.5,"labelFont":"DejaVu Sans Condensed, DejaVu Sans","rowPadding":3.5,"labelExpr":"['Total(Ar_1.0e19/s)','Plasma(Ar_1.0e19/s)','Neutral(Ar_1.0e19/s)','Radiation(Ar_1.0e19/s)','Total(Ne_4.0e19/s)','Plasma(Ne_4.0e19/s)','Neutral(Ne_4.0e19/s)','Radiation(Ne_4.0e19/s)'][indexof(['TA','PA','NA','RA','TN','PN','NN','RN'],datum.value)]"}}}},
  {"transform":[{"filter":{"field":"s","oneOf":["PA","PN"]}}],"mark":{"type":"point","shape":"square","filled":true,"size":18,"opacity":1},
   "encoding":{"x":{"field":"x","type":"quantitative","scale":{"domain":[-24.8,91.1],"nice":false,"zero":false},"axis":null},"y":{"field":"y","type":"quantitative","scale":{"domain":[0,4.4],"nice":false,"zero":false},"axis":null},
    "fill":{"field":"s","type":"nominal","scale":{"domain":["TA","PA","NA","RA","TN","PN","NN","RN"],"range":["#0000ff","#0000ff","#0000ff","#0000ff","#ff0000","#ff0000","#ff0000","#ff0000"]},
     "legend":{"title":null,"orient":"none","legendX":208,"legendY":9,"symbolSize":441,"symbolStrokeWidth":1,"symbolOpacity":1,"labelOffset":10,"labelFontSize":12.5,"labelFont":"DejaVu Sans Condensed, DejaVu Sans","rowPadding":3.5,"labelExpr":"['Total(Ar_1.0e19/s)','Plasma(Ar_1.0e19/s)','Neutral(Ar_1.0e19/s)','Radiation(Ar_1.0e19/s)','Total(Ne_4.0e19/s)','Plasma(Ne_4.0e19/s)','Neutral(Ne_4.0e19/s)','Radiation(Ne_4.0e19/s)'][indexof(['TA','PA','NA','RA','TN','PN','NN','RN'],datum.value)]"}}}},
  {"transform":[{"filter":{"field":"s","oneOf":["NA","NN"]}}],"mark":{"type":"point","shape":"M0,-1L0.235,-0.324L0.951,-0.309L0.38,0.124L0.588,0.809L0,0.4L-0.588,0.809L-0.38,0.124L-0.951,-0.309L-0.235,-0.324Z","filled":true,"size":45,"opacity":1},
   "encoding":{"x":{"field":"x","type":"quantitative","scale":{"domain":[-24.8,91.1],"nice":false,"zero":false},"axis":null},"y":{"field":"y","type":"quantitative","scale":{"domain":[0,4.4],"nice":false,"zero":false},"axis":null},
    "fill":{"field":"s","type":"nominal","scale":{"domain":["TA","PA","NA","RA","TN","PN","NN","RN"],"range":["#0000ff","#0000ff","#0000ff","#0000ff","#ff0000","#ff0000","#ff0000","#ff0000"]},
     "legend":{"title":null,"orient":"none","legendX":208,"legendY":9,"symbolSize":441,"symbolStrokeWidth":1,"symbolOpacity":1,"labelOffset":10,"labelFontSize":12.5,"labelFont":"DejaVu Sans Condensed, DejaVu Sans","rowPadding":3.5,"labelExpr":"['Total(Ar_1.0e19/s)','Plasma(Ar_1.0e19/s)','Neutral(Ar_1.0e19/s)','Radiation(Ar_1.0e19/s)','Total(Ne_4.0e19/s)','Plasma(Ne_4.0e19/s)','Neutral(Ne_4.0e19/s)','Radiation(Ne_4.0e19/s)'][indexof(['TA','PA','NA','RA','TN','PN','NN','RN'],datum.value)]"}}}},
  {"transform":[{"filter":{"field":"s","oneOf":["RA","RN"]}}],"mark":{"type":"point","shape":"triangle-up","filled":true,"size":28,"opacity":1},
   "encoding":{"x":{"field":"x","type":"quantitative","scale":{"domain":[-24.8,91.1],"nice":false,"zero":false},"axis":null},"y":{"field":"y","type":"quantitative","scale":{"domain":[0,4.4],"nice":false,"zero":false},"axis":null},
    "fill":{"field":"s","type":"nominal","scale":{"domain":["TA","PA","NA","RA","TN","PN","NN","RN"],"range":["#0000ff","#0000ff","#0000ff","#0000ff","#ff0000","#ff0000","#ff0000","#ff0000"]},
     "legend":{"title":null,"orient":"none","legendX":208,"legendY":9,"symbolSize":441,"symbolStrokeWidth":1,"symbolOpacity":1,"labelOffset":10,"labelFontSize":12.5,"labelFont":"DejaVu Sans Condensed, DejaVu Sans","rowPadding":3.5,"labelExpr":"['Total(Ar_1.0e19/s)','Plasma(Ar_1.0e19/s)','Neutral(Ar_1.0e19/s)','Radiation(Ar_1.0e19/s)','Total(Ne_4.0e19/s)','Plasma(Ne_4.0e19/s)','Neutral(Ne_4.0e19/s)','Radiation(Ne_4.0e19/s)'][indexof(['TA','PA','NA','RA','TN','PN','NN','RN'],datum.value)]"}}}},
  {"mark":{"type":"point","filled":true,"opacity":0},
   "encoding":{
    "shape":{"field":"s","type":"nominal","scale":{"domain":["TA","PA","NA","RA","TN","PN","NN","RN"],"range":["M-1.14,0H1.14M-0.27,0A0.27,0.27,0,1,0,0.27,0A0.27,0.27,0,1,0,-0.27,0Z","M-1.14,0H1.14M-0.2,-0.2H0.2V0.2H-0.2Z","M-1.14,0H1.14M0,-0.27L0.063,-0.087L0.257,-0.083L0.103,0.034L0.159,0.218L0,0.108L-0.159,0.218L-0.103,0.034L-0.257,-0.083L-0.063,-0.087Z","M-1.14,0H1.14M0,-0.27L0.25,0.18L-0.25,0.18Z","M-1.14,0H1.14M-0.27,0A0.27,0.27,0,1,0,0.27,0A0.27,0.27,0,1,0,-0.27,0Z","M-1.14,0H1.14M-0.2,-0.2H0.2V0.2H-0.2Z","M-1.14,0H1.14M0,-0.27L0.063,-0.087L0.257,-0.083L0.103,0.034L0.159,0.218L0,0.108L-0.159,0.218L-0.103,0.034L-0.257,-0.083L-0.063,-0.087Z","M-1.14,0H1.14M0,-0.27L0.25,0.18L-0.25,0.18Z"]},
     "legend":{"title":null,"orient":"none","legendX":208,"legendY":9,"symbolSize":441,"symbolStrokeWidth":1,"symbolOpacity":1,"labelOffset":10,"labelFontSize":12.5,"labelFont":"DejaVu Sans Condensed, DejaVu Sans","rowPadding":3.5,"labelExpr":"['Total(Ar_1.0e19/s)','Plasma(Ar_1.0e19/s)','Neutral(Ar_1.0e19/s)','Radiation(Ar_1.0e19/s)','Total(Ne_4.0e19/s)','Plasma(Ne_4.0e19/s)','Neutral(Ne_4.0e19/s)','Radiation(Ne_4.0e19/s)'][indexof(['TA','PA','NA','RA','TN','PN','NN','RN'],datum.value)]"}}
   }},
  {"data":{"values":[{"x":0,"y":0}]},"mark":{"type":"point","opacity":0},
   "encoding":{"x":{"field":"x","type":"quantitative","scale":{"domain":[-24.8,91.1],"nice":false,"zero":false},"axis":{"orient":"bottom","labels":false,"title":"sep","titleFontSize":17,"titleAngle":0,"titleAlign":"left","titleBaseline":"alphabetic","titleX":79,"titleY":50}},
    "y":{"field":"y","type":"quantitative","scale":{"domain":[0,4.4],"nice":false,"zero":false},"axis":{"orient":"left","labels":false,"title":"IT","titleFontSize":22,"titleAngle":270,"titleAlign":"left","titleBaseline":"alphabetic","titleX":-23,"titleY":204}}}},
  {"data":{"values":[{"x":0,"y":0}]},"mark":{"type":"point","opacity":0},
   "encoding":{"x":{"field":"x","type":"quantitative","scale":{"domain":[-24.8,91.1],"nice":false,"zero":false},"axis":{"orient":"bottom","labels":false,"title":"at inner target (cm)","titleFontSize":24,"titleAngle":0,"titleAlign":"left","titleBaseline":"alphabetic","titleX":108,"titleY":42}},
    "y":{"field":"y","type":"quantitative","scale":{"domain":[0,4.4],"nice":false,"zero":false},"axis":{"orient":"left","labels":false,"title":"(MW m⁻²)","titleFontSize":31,"titleAngle":270,"titleAlign":"left","titleBaseline":"alphabetic","titleX":-30,"titleY":179}}}},
  {"data":{"values":[{"x":0,"y":0}]},"mark":{"type":"point","opacity":0},
   "encoding":{"x":{"field":"x","type":"quantitative","scale":{"domain":[-24.8,91.1],"nice":false,"zero":false},"axis":{"orient":"top","labels":false,"title":"(c)IT","titleFont":"Liberation Serif","titleFontWeight":"bold","titleFontSize":31,"titleColor":"#0b4a28","titleAngle":0,"titleAlign":"left","titleBaseline":"alphabetic","titleX":1,"titleY":36}},
    "y":{"field":"y","type":"quantitative","scale":{"domain":[0,4.4],"nice":false,"zero":false},"axis":null}}}
 ],
 "resolve":{"axis":{"x":"independent","y":"independent"}}
},
{
 "width":375,"height":259,
 "data":{"name":"qot"},
 "layer":[
  {"data":{"values":[{"v":0}]},"mark":{"type":"rule","color":"#2a2aa8","strokeDash":[5,3],"strokeWidth":1.2},
   "encoding":{"x":{"field":"v","type":"quantitative","scale":{"domain":[-23,95.3],"nice":false,"zero":false},"axis":null}}},
  {"mark":{"type":"line","strokeWidth":1,"opacity":0.8},
   "encoding":{
    "x":{"field":"x","type":"quantitative","scale":{"domain":[-23,95.3],"nice":false,"zero":false},"axis":{"orient":"bottom","values":[-20,0,20,40,60,80],"labelPadding":3,"title":"r-r","titleFontSize":24,"titleAngle":0,"titleAlign":"left","titleBaseline":"alphabetic","titleX":46,"titleY":42}},
    "y":{"field":"y","type":"quantitative","scale":{"domain":[0,8],"nice":false,"zero":false},"axis":{"orient":"left","values":[0,1,2,3,4,5,6,7,8],"labelPadding":2,"title":"q","titleFontSize":32,"titleAngle":270,"titleAlign":"left","titleBaseline":"alphabetic","titleX":-21,"titleY":230}},
    "stroke":{"field":"s","type":"nominal","scale":{"domain":["TA","PA","NA","RA","TN","PN","NN","RN"],"range":["#3355ff","#3355ff","#3355ff","#3355ff","#ff3333","#ff3333","#ff3333","#ff3333"]},
     "legend":{"title":null,"orient":"none","legendX":208,"legendY":9,"symbolSize":441,"symbolStrokeWidth":1,"symbolOpacity":1,"labelOffset":10,"labelFontSize":12.5,"labelFont":"DejaVu Sans Condensed, DejaVu Sans","rowPadding":3.5,"labelExpr":"['Total(Ar_1.0e19/s)','Plasma(Ar_1.0e19/s)','Neutral(Ar_1.0e19/s)','Radiation(Ar_1.0e19/s)','Total(Ne_4.0e19/s)','Plasma(Ne_4.0e19/s)','Neutral(Ne_4.0e19/s)','Radiation(Ne_4.0e19/s)'][indexof(['TA','PA','NA','RA','TN','PN','NN','RN'],datum.value)]"}},
    "strokeDash":{"field":"s","type":"nominal","scale":{"domain":["TA","PA","NA","RA","TN","PN","NN","RN"],"range":[[1,0],[1,0],[1,0],[1,0],[2,1.5],[2,1.5],[2,1.5],[2,1.5]]},
     "legend":{"title":null,"orient":"none","legendX":208,"legendY":9,"symbolSize":441,"symbolStrokeWidth":1,"symbolOpacity":1,"labelOffset":10,"labelFontSize":12.5,"labelFont":"DejaVu Sans Condensed, DejaVu Sans","rowPadding":3.5,"labelExpr":"['Total(Ar_1.0e19/s)','Plasma(Ar_1.0e19/s)','Neutral(Ar_1.0e19/s)','Radiation(Ar_1.0e19/s)','Total(Ne_4.0e19/s)','Plasma(Ne_4.0e19/s)','Neutral(Ne_4.0e19/s)','Radiation(Ne_4.0e19/s)'][indexof(['TA','PA','NA','RA','TN','PN','NN','RN'],datum.value)]"}}
   }},
  {"transform":[{"filter":{"field":"s","oneOf":["TA","TN"]}}],"mark":{"type":"point","shape":"circle","filled":true,"size":32,"opacity":1},
   "encoding":{"x":{"field":"x","type":"quantitative","scale":{"domain":[-23,95.3],"nice":false,"zero":false},"axis":null},"y":{"field":"y","type":"quantitative","scale":{"domain":[0,8],"nice":false,"zero":false},"axis":null},
    "fill":{"field":"s","type":"nominal","scale":{"domain":["TA","PA","NA","RA","TN","PN","NN","RN"],"range":["#0000ff","#0000ff","#0000ff","#0000ff","#ff0000","#ff0000","#ff0000","#ff0000"]},
     "legend":{"title":null,"orient":"none","legendX":208,"legendY":9,"symbolSize":441,"symbolStrokeWidth":1,"symbolOpacity":1,"labelOffset":10,"labelFontSize":12.5,"labelFont":"DejaVu Sans Condensed, DejaVu Sans","rowPadding":3.5,"labelExpr":"['Total(Ar_1.0e19/s)','Plasma(Ar_1.0e19/s)','Neutral(Ar_1.0e19/s)','Radiation(Ar_1.0e19/s)','Total(Ne_4.0e19/s)','Plasma(Ne_4.0e19/s)','Neutral(Ne_4.0e19/s)','Radiation(Ne_4.0e19/s)'][indexof(['TA','PA','NA','RA','TN','PN','NN','RN'],datum.value)]"}}}},
  {"transform":[{"filter":{"field":"s","oneOf":["PA","PN"]}}],"mark":{"type":"point","shape":"square","filled":true,"size":18,"opacity":1},
   "encoding":{"x":{"field":"x","type":"quantitative","scale":{"domain":[-23,95.3],"nice":false,"zero":false},"axis":null},"y":{"field":"y","type":"quantitative","scale":{"domain":[0,8],"nice":false,"zero":false},"axis":null},
    "fill":{"field":"s","type":"nominal","scale":{"domain":["TA","PA","NA","RA","TN","PN","NN","RN"],"range":["#0000ff","#0000ff","#0000ff","#0000ff","#ff0000","#ff0000","#ff0000","#ff0000"]},
     "legend":{"title":null,"orient":"none","legendX":208,"legendY":9,"symbolSize":441,"symbolStrokeWidth":1,"symbolOpacity":1,"labelOffset":10,"labelFontSize":12.5,"labelFont":"DejaVu Sans Condensed, DejaVu Sans","rowPadding":3.5,"labelExpr":"['Total(Ar_1.0e19/s)','Plasma(Ar_1.0e19/s)','Neutral(Ar_1.0e19/s)','Radiation(Ar_1.0e19/s)','Total(Ne_4.0e19/s)','Plasma(Ne_4.0e19/s)','Neutral(Ne_4.0e19/s)','Radiation(Ne_4.0e19/s)'][indexof(['TA','PA','NA','RA','TN','PN','NN','RN'],datum.value)]"}}}},
  {"transform":[{"filter":{"field":"s","oneOf":["NA","NN"]}}],"mark":{"type":"point","shape":"M0,-1L0.235,-0.324L0.951,-0.309L0.38,0.124L0.588,0.809L0,0.4L-0.588,0.809L-0.38,0.124L-0.951,-0.309L-0.235,-0.324Z","filled":true,"size":45,"opacity":1},
   "encoding":{"x":{"field":"x","type":"quantitative","scale":{"domain":[-23,95.3],"nice":false,"zero":false},"axis":null},"y":{"field":"y","type":"quantitative","scale":{"domain":[0,8],"nice":false,"zero":false},"axis":null},
    "fill":{"field":"s","type":"nominal","scale":{"domain":["TA","PA","NA","RA","TN","PN","NN","RN"],"range":["#0000ff","#0000ff","#0000ff","#0000ff","#ff0000","#ff0000","#ff0000","#ff0000"]},
     "legend":{"title":null,"orient":"none","legendX":208,"legendY":9,"symbolSize":441,"symbolStrokeWidth":1,"symbolOpacity":1,"labelOffset":10,"labelFontSize":12.5,"labelFont":"DejaVu Sans Condensed, DejaVu Sans","rowPadding":3.5,"labelExpr":"['Total(Ar_1.0e19/s)','Plasma(Ar_1.0e19/s)','Neutral(Ar_1.0e19/s)','Radiation(Ar_1.0e19/s)','Total(Ne_4.0e19/s)','Plasma(Ne_4.0e19/s)','Neutral(Ne_4.0e19/s)','Radiation(Ne_4.0e19/s)'][indexof(['TA','PA','NA','RA','TN','PN','NN','RN'],datum.value)]"}}}},
  {"transform":[{"filter":{"field":"s","oneOf":["RA","RN"]}}],"mark":{"type":"point","shape":"triangle-up","filled":true,"size":28,"opacity":1},
   "encoding":{"x":{"field":"x","type":"quantitative","scale":{"domain":[-23,95.3],"nice":false,"zero":false},"axis":null},"y":{"field":"y","type":"quantitative","scale":{"domain":[0,8],"nice":false,"zero":false},"axis":null},
    "fill":{"field":"s","type":"nominal","scale":{"domain":["TA","PA","NA","RA","TN","PN","NN","RN"],"range":["#0000ff","#0000ff","#0000ff","#0000ff","#ff0000","#ff0000","#ff0000","#ff0000"]},
     "legend":{"title":null,"orient":"none","legendX":208,"legendY":9,"symbolSize":441,"symbolStrokeWidth":1,"symbolOpacity":1,"labelOffset":10,"labelFontSize":12.5,"labelFont":"DejaVu Sans Condensed, DejaVu Sans","rowPadding":3.5,"labelExpr":"['Total(Ar_1.0e19/s)','Plasma(Ar_1.0e19/s)','Neutral(Ar_1.0e19/s)','Radiation(Ar_1.0e19/s)','Total(Ne_4.0e19/s)','Plasma(Ne_4.0e19/s)','Neutral(Ne_4.0e19/s)','Radiation(Ne_4.0e19/s)'][indexof(['TA','PA','NA','RA','TN','PN','NN','RN'],datum.value)]"}}}},
  {"mark":{"type":"point","filled":true,"opacity":0},
   "encoding":{
    "shape":{"field":"s","type":"nominal","scale":{"domain":["TA","PA","NA","RA","TN","PN","NN","RN"],"range":["M-1.14,0H1.14M-0.27,0A0.27,0.27,0,1,0,0.27,0A0.27,0.27,0,1,0,-0.27,0Z","M-1.14,0H1.14M-0.2,-0.2H0.2V0.2H-0.2Z","M-1.14,0H1.14M0,-0.27L0.063,-0.087L0.257,-0.083L0.103,0.034L0.159,0.218L0,0.108L-0.159,0.218L-0.103,0.034L-0.257,-0.083L-0.063,-0.087Z","M-1.14,0H1.14M0,-0.27L0.25,0.18L-0.25,0.18Z","M-1.14,0H1.14M-0.27,0A0.27,0.27,0,1,0,0.27,0A0.27,0.27,0,1,0,-0.27,0Z","M-1.14,0H1.14M-0.2,-0.2H0.2V0.2H-0.2Z","M-1.14,0H1.14M0,-0.27L0.063,-0.087L0.257,-0.083L0.103,0.034L0.159,0.218L0,0.108L-0.159,0.218L-0.103,0.034L-0.257,-0.083L-0.063,-0.087Z","M-1.14,0H1.14M0,-0.27L0.25,0.18L-0.25,0.18Z"]},
     "legend":{"title":null,"orient":"none","legendX":208,"legendY":9,"symbolSize":441,"symbolStrokeWidth":1,"symbolOpacity":1,"labelOffset":10,"labelFontSize":12.5,"labelFont":"DejaVu Sans Condensed, DejaVu Sans","rowPadding":3.5,"labelExpr":"['Total(Ar_1.0e19/s)','Plasma(Ar_1.0e19/s)','Neutral(Ar_1.0e19/s)','Radiation(Ar_1.0e19/s)','Total(Ne_4.0e19/s)','Plasma(Ne_4.0e19/s)','Neutral(Ne_4.0e19/s)','Radiation(Ne_4.0e19/s)'][indexof(['TA','PA','NA','RA','TN','PN','NN','RN'],datum.value)]"}}
   }},
  {"data":{"values":[{"x":0,"y":0}]},"mark":{"type":"point","opacity":0},
   "encoding":{"x":{"field":"x","type":"quantitative","scale":{"domain":[-23,95.3],"nice":false,"zero":false},"axis":{"orient":"bottom","labels":false,"title":"sep","titleFontSize":17,"titleAngle":0,"titleAlign":"left","titleBaseline":"alphabetic","titleX":77,"titleY":50}},
    "y":{"field":"y","type":"quantitative","scale":{"domain":[0,8],"nice":false,"zero":false},"axis":{"orient":"left","labels":false,"title":"OT","titleFontSize":22,"titleAngle":270,"titleAlign":"left","titleBaseline":"alphabetic","titleX":-14,"titleY":204}}}},
  {"data":{"values":[{"x":0,"y":0}]},"mark":{"type":"point","opacity":0},
   "encoding":{"x":{"field":"x","type":"quantitative","scale":{"domain":[-23,95.3],"nice":false,"zero":false},"axis":{"orient":"bottom","labels":false,"title":"at outer target (cm)","titleFontSize":24,"titleAngle":0,"titleAlign":"left","titleBaseline":"alphabetic","titleX":108,"titleY":42}},
    "y":{"field":"y","type":"quantitative","scale":{"domain":[0,8],"nice":false,"zero":false},"axis":{"orient":"left","labels":false,"title":"(MW m⁻²)","titleFontSize":31,"titleAngle":270,"titleAlign":"left","titleBaseline":"alphabetic","titleX":-21,"titleY":174}}}},
  {"data":{"values":[{"x":0,"y":0}]},"mark":{"type":"point","opacity":0},
   "encoding":{"x":{"field":"x","type":"quantitative","scale":{"domain":[-23,95.3],"nice":false,"zero":false},"axis":{"orient":"top","labels":false,"title":"(d)OT","titleFont":"Liberation Serif","titleFontWeight":"bold","titleFontSize":31,"titleColor":"#0b4a28","titleAngle":0,"titleAlign":"left","titleBaseline":"alphabetic","titleX":1,"titleY":32}},
    "y":{"field":"y","type":"quantitative","scale":{"domain":[0,8],"nice":false,"zero":false},"axis":null}}}
 ],
 "resolve":{"axis":{"x":"independent","y":"independent"}}
}
],
"resolve":{"scale":{"fill":"independent","stroke":"independent","shape":"independent","strokeDash":"independent"},"legend":{"fill":"independent","stroke":"independent","shape":"independent","strokeDash":"independent"}}
}
